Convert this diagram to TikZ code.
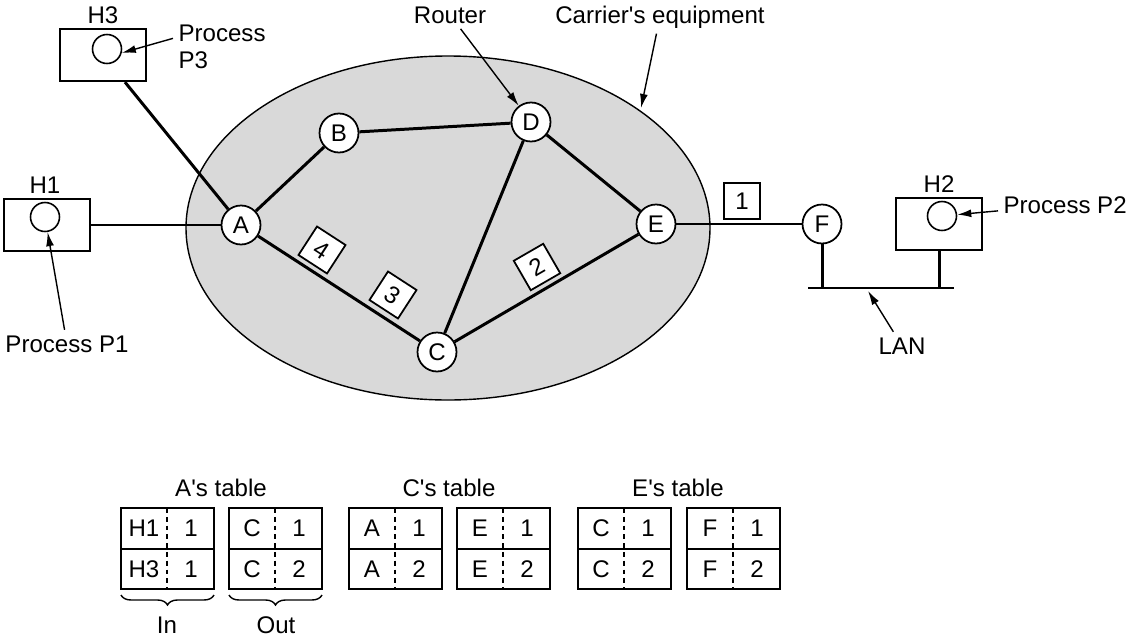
\documentclass[tikz,border=0pt]{standalone}
\usepackage{fontspec}
\setmainfont{Liberation Sans}
\usetikzlibrary{arrows.meta,decorations.pathreplacing}
\tikzset{
	routeur/.style={circle,draw,fill=white,line width=1pt,minimum size=0.78cm,inner sep=0pt},
	hote/.style={draw,line width=1pt,minimum width=1.72cm,minimum height=1.05cm},
	processus/.style={circle,draw,line width=0.9pt,minimum size=0.58cm,inner sep=0pt},
	paquet/.style={draw,fill=white,line width=1pt,minimum size=0.68cm,inner sep=0pt},
	lien/.style={line width=1.7pt},
	fleche/.style={line width=0.8pt,-{Latex[length=8pt,width=4.5pt]}},
	etiquette/.style={anchor=base,inner sep=3pt},
	tableau/.style={line width=1.1pt},
	pointille/.style={line width=0.8pt,dash pattern=on 2.8pt off 2.2pt},
	accolade/.style={decorate,decoration={brace,mirror,amplitude=0.2cm},line width=0.8pt}
}
\begin{document}
\begin{tikzpicture}[x=0.02cm,y=-0.02cm,font=\fontsize{13.7}{15}\selectfont]
\useasboundingbox (0,0) rectangle (1132,639);
%					Tracé du réseau de l'opérateur :
					\draw[line width=0.8pt,fill=gray!30] (448,228) ellipse [x radius=262,y radius=172];
%					Tracé des routeurs :
					\node[routeur] (A) at (241,225) {A};
					\node[routeur] (B) at (339,133) {B};
					\node[routeur] (C) at (437,352) {C};
					\node[routeur] (D) at (531,122) {D};
					\node[routeur] (E) at (656,224) {E};
					\node[routeur] (F) at (822,224) {F};
%					Tracé des hôtes :
					\node[hote] (H1) at (47,225) {};
					\node[processus] (P1) at (45,217) {};
					\node[etiquette] (nomH1) at (45,193) {H1};
					\node[hote] (H3) at (103,55) {};
					\node[processus] (P3) at (107,49) {};
					\node[etiquette] (nomH3) at (103,23) {H3};
					\node[hote] (H2) at (939,224) {};
					\node[processus] (P2) at (942,216) {};
					\node[etiquette] (nomH2) at (939,192) {H2};
%					Tracé des liaisons :
					\draw[lien] (H1) -- (A);
					\draw[lien] (H3) -- (A);
					\foreach \u/\v in {A/B,B/D,D/E,D/C,A/C,C/E,E/F}
						\draw[lien] (\u) -- (\v);
%					Tracé du LAN :
					\coordinate (lanG) at (808,288);
					\coordinate (lanD) at (954,288);
					\draw[lien] (lanG) -- (lanD);
					\draw[lien] (F) -- (F |- lanG);
					\draw[lien] (H2.south) -- (H2.south |- lanG);
%					Tracé des paquets :
					\node[paquet,minimum size=0.72cm] (q1) at (742,201) {1};
					\node[paquet,rotate=30] (q2) at (537,267) {2};
					\node[paquet,rotate=-33] (q3) at (393,295) {3};
					\node[paquet,rotate=-33] (q4) at (322,250) {4};
%					Légendes et flèches :
					\node[etiquette] (routeur) at (450,23) {Router};
					\draw[fleche] (routeur) -- (D);
					\node[etiquette] (operateur) at (660,23) {Carrier\textquotesingle s equipment};
					\coordinate (bord) at (641,108);
					\draw[fleche] (operateur) -- (bord);
					\node[anchor=west,align=left,inner sep=3pt] (nomP3) at (173,47) {Process\\P3};
					\draw[fleche] (nomP3.170) -- (P3.-15);
					\node[etiquette] (nomP1) at (67,352) {Process P1};
					\draw[fleche] (nomP1) -- (P1);
					\node[etiquette,anchor=base west] (nomP2) at (998,213) {Process P2};
					\draw[fleche] (nomP2) -- (P2);
					\node[etiquette] (nomLAN) at (902,354) {LAN};
					\coordinate (bus) at (868,291);
					\draw[fleche] (nomLAN) -- (bus);
%					Tracé des tables :
					\node[etiquette] (titreA) at (221,496) {A\textquotesingle s table};
					\node[etiquette] (titreC) at (449,496) {C\textquotesingle s table};
					\node[etiquette] (titreE) at (678,496) {E\textquotesingle s table};
					\foreach \x/\ga/\da/\gb/\db in {121/H1/1/H3/1,229/C/1/C/2,349/A/1/A/2,457/E/1/E/2,578/C/1/C/2,687/F/1/F/2}{
						\draw[tableau] (\x,508) rectangle ++(93,81);
						\draw[tableau] (\x,549) -- ++(93,0);
						\draw[pointille] (\x+46,508) -- ++(0,81);
						\node (g1-\x) at (\x+23,528) {\ga};
						\node (d1-\x) at (\x+70,528) {\da};
						\node (g2-\x) at (\x+23,569) {\gb};
						\node (d2-\x) at (\x+70,569) {\db};
					}
					\draw[accolade] (121,595) -- (214,595);
					\draw[accolade] (229,595) -- (322,595);
					\node[etiquette] (entree) at (167,633) {In};
					\node[etiquette] (sortie) at (276,633) {Out};
				\end{tikzpicture}
\end{document}
